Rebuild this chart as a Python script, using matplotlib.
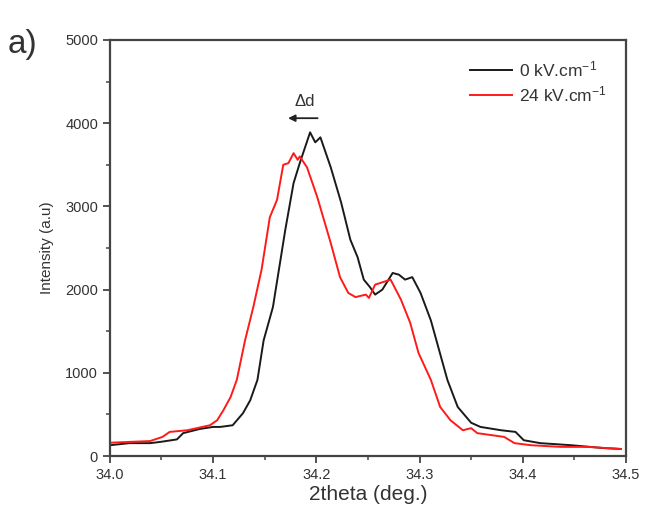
import matplotlib.pyplot as plt
from matplotlib.ticker import MultipleLocator

plt.rcParams['font.family'] = ['Liberation Sans', 'DejaVu Sans']
plt.rcParams['mathtext.fontset'] = 'custom'
plt.rcParams['mathtext.rm'] = 'Liberation Sans'
plt.rcParams['mathtext.it'] = 'Liberation Sans'

# 0 kV/cm pattern
x_0kv = [34.000, 34.019, 34.039, 34.049, 34.065, 34.071, 34.087, 34.100, 34.107, 34.119,
         34.129, 34.136, 34.143, 34.149, 34.158, 34.170, 34.178, 34.184, 34.194, 34.199,
         34.204, 34.214, 34.224, 34.233, 34.240, 34.246, 34.252, 34.257, 34.264, 34.274,
         34.280, 34.286, 34.293, 34.301, 34.311, 34.327, 34.337, 34.350, 34.359, 34.379,
         34.393, 34.401, 34.417, 34.447, 34.479, 34.495]
y_0kv = [130, 155, 155, 170, 200, 275, 325, 350, 350, 370,
         515, 670, 915, 1390, 1790, 2720, 3280, 3520, 3890, 3770,
         3830, 3470, 3050, 2600, 2390, 2120, 2030, 1940, 2000, 2200,
         2180, 2120, 2150, 1960, 1630, 915, 590, 400, 350, 310,
         290, 190, 155, 130, 95, 85]

# 24 kV/cm pattern
x_24kv = [34.000, 34.039, 34.051, 34.058, 34.075, 34.097, 34.104, 34.110, 34.117, 34.123,
          34.131, 34.139, 34.147, 34.155, 34.162, 34.168, 34.173, 34.178, 34.182, 34.184,
          34.191, 34.201, 34.214, 34.223, 34.231, 34.238, 34.248, 34.251, 34.257, 34.272,
          34.282, 34.291, 34.299, 34.311, 34.320, 34.330, 34.342, 34.350, 34.356, 34.382,
          34.392, 34.408, 34.437, 34.463, 34.495]
y_24kv = [160, 180, 230, 290, 310, 370, 430, 550, 710, 915,
          1390, 1790, 2240, 2870, 3080, 3500, 3520, 3640, 3560, 3600,
          3470, 3110, 2560, 2150, 1960, 1910, 1940, 1900, 2060, 2120,
          1880, 1600, 1240, 915, 590, 430, 310, 335, 275, 230,
          155, 130, 110, 110, 85]

fig = plt.figure(figsize=(6.46, 5.26), dpi=100)
ax = fig.add_axes([0.170, 0.133, 0.799, 0.791])

ax.plot(x_0kv, y_0kv, color='#1a1a1a', lw=1.4, label='0 kV.cm$^{\\mathrm{-1}}$')
ax.plot(x_24kv, y_24kv, color='#ff1a1a', lw=1.4, label='24 kV.cm$^{\\mathrm{-1}}$')

ax.set_xlim(34.0, 34.5)
ax.set_ylim(0, 5000)
ax.xaxis.set_major_locator(MultipleLocator(0.1))
ax.xaxis.set_minor_locator(MultipleLocator(0.05))
ax.yaxis.set_major_locator(MultipleLocator(1000))
ax.yaxis.set_minor_locator(MultipleLocator(500))
ax.xaxis.set_major_formatter(plt.FormatStrFormatter('%.1f'))

for s in ax.spines.values():
    s.set_color('#444444')
    s.set_linewidth(1.6)
ax.tick_params(which='major', direction='out', length=5, width=1.3, color='#444444',
               labelsize=10.5, labelcolor='#333333')
ax.tick_params(which='minor', direction='out', length=3, width=1.1, color='#444444')

ax.set_xlabel('2theta (deg.)', fontsize=15, color='#333333', labelpad=2)
ax.set_ylabel('Intensity (a.u)', fontsize=11, color='#333333', labelpad=8)

ax.annotate('', xy=(34.170, 4060), xytext=(34.204, 4060),
            arrowprops=dict(arrowstyle='-|>', color='#222222', lw=1.3, mutation_scale=10))
ax.text(34.189, 4170, '\u0394d', fontsize=12, color='#333333', ha='center', va='bottom')

leg = ax.legend(loc='upper right', frameon=False, fontsize=12.5, handlelength=2.4,
                handletextpad=0.4, labelspacing=0.3, borderaxespad=0.7)
for t in leg.get_texts():
    t.set_color('#333333')

fig.text(0.012, 0.9, 'a)', fontsize=24, color='#333333')

fig.savefig('out.png', dpi=100)
